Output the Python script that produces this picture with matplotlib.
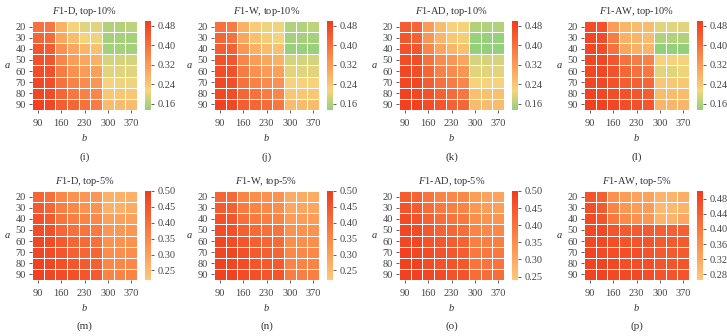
import matplotlib.pyplot as plt
import numpy as np
from matplotlib.colors import LinearSegmentedColormap

plt.rcParams['font.family'] = 'Liberation Serif'
plt.rcParams['mathtext.fontset'] = 'custom'
plt.rcParams['mathtext.it'] = 'Liberation Serif:italic'
plt.rcParams['mathtext.rm'] = 'Liberation Serif'

a_vals = [20, 30, 40, 50, 60, 70, 80, 90]
b_vals = [90, 125, 160, 195, 230, 265, 300, 335, 370]
b_ticks = [90, 160, 230, 300, 370]

# top-10% panels (rows: a, cols: b)
f1_d_10 = [
    [0.40, 0.39, 0.28, 0.22, 0.20, 0.20, 0.16, 0.16, 0.17],
    [0.42, 0.41, 0.30, 0.26, 0.22, 0.21, 0.15, 0.15, 0.15],
    [0.45, 0.44, 0.34, 0.30, 0.27, 0.25, 0.15, 0.15, 0.15],
    [0.46, 0.45, 0.36, 0.32, 0.30, 0.28, 0.19, 0.19, 0.19],
    [0.47, 0.46, 0.38, 0.34, 0.32, 0.31, 0.20, 0.20, 0.20],
    [0.48, 0.47, 0.40, 0.37, 0.35, 0.33, 0.22, 0.21, 0.21],
    [0.48, 0.47, 0.42, 0.39, 0.37, 0.36, 0.24, 0.24, 0.24],
    [0.49, 0.48, 0.44, 0.42, 0.40, 0.38, 0.26, 0.26, 0.26],
]
f1_w_10 = [
    [0.40, 0.38, 0.28, 0.23, 0.21, 0.21, 0.16, 0.16, 0.17],
    [0.42, 0.40, 0.30, 0.25, 0.23, 0.22, 0.15, 0.15, 0.15],
    [0.44, 0.43, 0.33, 0.28, 0.26, 0.25, 0.14, 0.14, 0.14],
    [0.46, 0.45, 0.36, 0.32, 0.30, 0.28, 0.19, 0.19, 0.19],
    [0.47, 0.46, 0.38, 0.34, 0.32, 0.31, 0.20, 0.20, 0.20],
    [0.48, 0.47, 0.40, 0.37, 0.35, 0.34, 0.22, 0.22, 0.22],
    [0.48, 0.47, 0.42, 0.40, 0.38, 0.36, 0.24, 0.24, 0.24],
    [0.49, 0.48, 0.44, 0.42, 0.41, 0.39, 0.26, 0.26, 0.26],
]
f1_ad_10 = [
    [0.44, 0.42, 0.32, 0.26, 0.22, 0.22, 0.16, 0.16, 0.16],
    [0.45, 0.43, 0.33, 0.27, 0.24, 0.23, 0.14, 0.14, 0.14],
    [0.46, 0.45, 0.36, 0.30, 0.27, 0.25, 0.13, 0.13, 0.13],
    [0.47, 0.47, 0.40, 0.35, 0.33, 0.30, 0.19, 0.19, 0.19],
    [0.48, 0.47, 0.42, 0.37, 0.35, 0.33, 0.20, 0.20, 0.20],
    [0.48, 0.48, 0.44, 0.40, 0.38, 0.36, 0.22, 0.22, 0.22],
    [0.49, 0.48, 0.46, 0.43, 0.41, 0.39, 0.25, 0.25, 0.25],
    [0.49, 0.49, 0.47, 0.45, 0.43, 0.42, 0.26, 0.26, 0.26],
]
f1_aw_10 = [
    [0.47, 0.46, 0.32, 0.27, 0.26, 0.26, 0.20, 0.20, 0.20],
    [0.48, 0.47, 0.38, 0.28, 0.27, 0.26, 0.16, 0.16, 0.16],
    [0.48, 0.47, 0.40, 0.30, 0.28, 0.27, 0.13, 0.13, 0.13],
    [0.48, 0.48, 0.45, 0.40, 0.38, 0.37, 0.22, 0.22, 0.22],
    [0.48, 0.48, 0.46, 0.42, 0.40, 0.39, 0.20, 0.20, 0.21],
    [0.48, 0.48, 0.46, 0.44, 0.43, 0.42, 0.24, 0.24, 0.24],
    [0.49, 0.48, 0.47, 0.46, 0.45, 0.44, 0.26, 0.26, 0.26],
    [0.49, 0.49, 0.48, 0.47, 0.46, 0.45, 0.27, 0.27, 0.27],
]

# top-5% panels
f1_d_5 = [
    [0.42, 0.40, 0.35, 0.33, 0.32, 0.32, 0.27, 0.27, 0.27],
    [0.44, 0.42, 0.37, 0.35, 0.33, 0.33, 0.27, 0.27, 0.28],
    [0.46, 0.44, 0.39, 0.37, 0.36, 0.35, 0.30, 0.30, 0.30],
    [0.47, 0.46, 0.42, 0.40, 0.39, 0.38, 0.32, 0.32, 0.32],
    [0.48, 0.47, 0.44, 0.42, 0.41, 0.40, 0.33, 0.33, 0.33],
    [0.48, 0.47, 0.45, 0.43, 0.42, 0.42, 0.34, 0.34, 0.34],
    [0.49, 0.48, 0.46, 0.45, 0.44, 0.43, 0.35, 0.35, 0.35],
    [0.49, 0.48, 0.47, 0.46, 0.45, 0.44, 0.36, 0.36, 0.36],
]
f1_w_5 = [
    [0.42, 0.41, 0.36, 0.34, 0.33, 0.33, 0.28, 0.28, 0.28],
    [0.44, 0.43, 0.38, 0.36, 0.35, 0.34, 0.29, 0.29, 0.29],
    [0.46, 0.45, 0.40, 0.38, 0.37, 0.36, 0.31, 0.31, 0.31],
    [0.47, 0.46, 0.43, 0.41, 0.40, 0.39, 0.33, 0.33, 0.33],
    [0.48, 0.47, 0.45, 0.43, 0.42, 0.41, 0.34, 0.34, 0.34],
    [0.48, 0.48, 0.46, 0.44, 0.43, 0.42, 0.35, 0.35, 0.35],
    [0.49, 0.48, 0.47, 0.45, 0.44, 0.44, 0.36, 0.36, 0.36],
    [0.49, 0.49, 0.47, 0.46, 0.45, 0.45, 0.37, 0.37, 0.37],
]
f1_ad_5 = [
    [0.44, 0.43, 0.40, 0.37, 0.36, 0.36, 0.32, 0.31, 0.31],
    [0.46, 0.44, 0.41, 0.39, 0.38, 0.37, 0.33, 0.32, 0.32],
    [0.47, 0.46, 0.43, 0.41, 0.40, 0.39, 0.35, 0.34, 0.34],
    [0.48, 0.47, 0.45, 0.43, 0.42, 0.41, 0.37, 0.36, 0.36],
    [0.48, 0.48, 0.46, 0.45, 0.44, 0.43, 0.38, 0.38, 0.38],
    [0.49, 0.48, 0.47, 0.46, 0.45, 0.44, 0.39, 0.39, 0.39],
    [0.49, 0.49, 0.47, 0.46, 0.46, 0.45, 0.40, 0.40, 0.40],
    [0.49, 0.49, 0.48, 0.47, 0.46, 0.46, 0.41, 0.41, 0.41],
]
f1_aw_5 = [
    [0.46, 0.44, 0.36, 0.34, 0.33, 0.33, 0.30, 0.30, 0.31],
    [0.47, 0.45, 0.38, 0.35, 0.34, 0.34, 0.29, 0.29, 0.30],
    [0.48, 0.46, 0.40, 0.37, 0.36, 0.35, 0.30, 0.30, 0.32],
    [0.48, 0.48, 0.46, 0.45, 0.45, 0.45, 0.44, 0.44, 0.44],
    [0.48, 0.48, 0.47, 0.46, 0.46, 0.46, 0.45, 0.45, 0.45],
    [0.49, 0.48, 0.47, 0.47, 0.47, 0.46, 0.45, 0.45, 0.45],
    [0.49, 0.49, 0.48, 0.47, 0.47, 0.47, 0.46, 0.46, 0.46],
    [0.49, 0.49, 0.48, 0.48, 0.48, 0.47, 0.46, 0.46, 0.46],
]

top_data = [f1_d_10, f1_w_10, f1_ad_10, f1_aw_10]
top_titles = ['D, top-10%', 'W, top-10%', 'AD, top-10%', 'AW, top-10%']
top_letters = ['(i)', '(j)', '(k)', '(l)']
top_ranges = [(0.135, 0.50)] * 4
top_ticks = [[0.16, 0.24, 0.32, 0.40, 0.48]] * 4

bot_data = [f1_d_5, f1_w_5, f1_ad_5, f1_aw_5]
bot_titles = ['D, top-5%', 'W, top-5%', 'AD, top-5%', 'AW, top-5%']
bot_letters = ['(m)', '(n)', '(o)', '(p)']
bot_ranges = [(0.22, 0.50), (0.22, 0.50), (0.24, 0.50), (0.265, 0.50)]
bot_ticks = [[0.25, 0.30, 0.35, 0.40, 0.45, 0.50]] * 3 + [[0.28, 0.32, 0.36, 0.40, 0.44, 0.48]]

cmap_top = LinearSegmentedColormap.from_list(
    'gyr', [(0.0, '#93d07c'), (0.22, '#f6d47e'), (0.5, '#fb9c58'), (1.0, '#f03c1e')])
cmap_bot = LinearSegmentedColormap.from_list(
    'or', [(0.0, '#fdc87c'), (0.45, '#fb8a4a'), (1.0, '#f03c1e')])

W, H = 727, 336
fig = plt.figure(figsize=(W / 100, H / 100), dpi=100)
lefts = [32, 214, 399, 584]
hm_w, hm_h = 105, 89
tick_col = '#444444'
txt_col = '#333333'
fs = 7.5


def px_axes(x, y, w, h):
    return fig.add_axes([x / W, 1 - (y + h) / H, w / W, h / H])


def draw_panel(data, title, letter, vrange, ticks, cmap, x0, y0, letter_off):
    ax = px_axes(x0, y0, hm_w, hm_h)
    arr = np.array(data)
    mesh = ax.pcolormesh(arr, cmap=cmap, vmin=vrange[0], vmax=vrange[1],
                         edgecolors='white', linewidth=0.5)
    ax.set_xlim(0, len(b_vals))
    ax.set_ylim(len(a_vals), 0)
    ax.set_xticks([b_vals.index(b) + 0.5 for b in b_ticks])
    ax.set_xticklabels([str(b) for b in b_ticks])
    ax.set_yticks(np.arange(len(a_vals)) + 0.5)
    ax.set_yticklabels([str(a) for a in a_vals])
    ax.tick_params(labelsize=fs, colors=tick_col, length=2.5, width=0.6, pad=2)
    ax.tick_params(axis='x', pad=4)
    for s in ax.spines.values():
        s.set_visible(False)
    ax.set_title(r'$\mathit{F1}$-' + title, fontsize=fs, color=txt_col, pad=5)
    ax.set_xlabel('b', fontsize=fs, style='italic', color=txt_col, labelpad=4)
    ax.text(-25 / hm_w, 0.5, 'a', transform=ax.transAxes, ha='center', va='center',
            fontsize=fs, style='italic', color=txt_col)
    ax.text(0.5, -letter_off / hm_h, letter, transform=ax.transAxes, ha='center',
            va='center', fontsize=8, color=txt_col)

    cax = px_axes(x0 + hm_w + 8, y0, 6, hm_h)
    cb = fig.colorbar(mesh, cax=cax, ticks=ticks)
    cb.outline.set_visible(False)
    cb.ax.set_yticklabels(['%.2f' % t for t in ticks])
    cb.ax.tick_params(labelsize=fs, colors=tick_col, length=2.5, width=0.6, pad=2)


for i in range(4):
    draw_panel(top_data[i], top_titles[i], top_letters[i], top_ranges[i],
               top_ticks[i], cmap_top, lefts[i], 21, 47)
    draw_panel(bot_data[i], bot_titles[i], bot_letters[i], bot_ranges[i],
               bot_ticks[i], cmap_bot, lefts[i], 191, 46)

fig.savefig('out.png', dpi=100)
